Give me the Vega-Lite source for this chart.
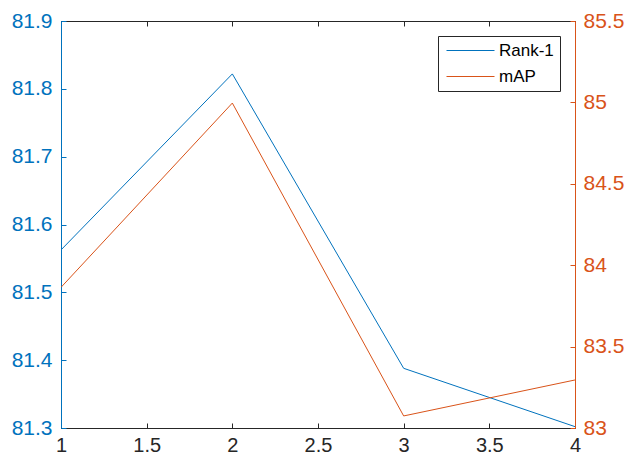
{
  "$schema": "https://vega.github.io/schema/vega-lite/v6.json",
  "autosize": "none",
  "width": 514,
  "height": 407,
  "padding": {"left": 61, "top": 21, "right": 54, "bottom": 34},
  "background": "white",
  "config": {
    "view": {"stroke": "#262626", "strokeWidth": 1},
    "font": "Liberation Sans",
    "axis": {"grid": false, "labelFont": "Liberation Sans", "labelFontSize": 21, "tickSize": -5, "domainWidth": 1, "tickWidth": 1, "title": null, "format": "~g"}
  },
  "data": {"values": [
    {"x": 1, "series": "Rank-1", "rank1": 81.5625, "map": null},
    {"x": 2, "series": "Rank-1", "rank1": 81.822, "map": null},
    {"x": 3, "series": "Rank-1", "rank1": 81.388, "map": null},
    {"x": 4, "series": "Rank-1", "rank1": 81.302, "map": null},
    {"x": 1, "series": "mAP", "rank1": null, "map": 83.864},
    {"x": 2, "series": "mAP", "rank1": null, "map": 84.996},
    {"x": 3, "series": "mAP", "rank1": null, "map": 83.074},
    {"x": 4, "series": "mAP", "rank1": null, "map": 83.295}
  ]},
  "encoding": {
    "color": {"field": "series", "type": "nominal",
              "scale": {"domain": ["Rank-1", "mAP"], "range": ["#0072BD", "#D95319"]},
              "legend": {"orient": "none", "legendX": 377, "legendY": 15, "title": null, "symbolType": "M-1,0H7", "symbolSize": 144, "symbolStrokeWidth": 1, "labelFontSize": 17, "labelFont": "Liberation Sans", "labelColor": "black", "strokeColor": "#262626", "fillColor": "white", "padding": 6, "rowPadding": 8, "labelOffset": 38, "cornerRadius": 0}}
  },
  "layer": [
    {
      "transform": [{"filter": "datum.series === 'Rank-1'"}],
      "mark": {"type": "line", "strokeWidth": 1, "clip": true},
      "encoding": {
        "x": {"field": "x", "type": "quantitative", "scale": {"domain": [1, 4], "nice": false, "zero": false},
              "axis": {"orient": "bottom", "values": [1, 1.5, 2, 2.5, 3, 3.5, 4], "labelFontSize": 20, "labelColor": "#262626", "domainColor": "#262626", "tickColor": "#262626", "labelPadding": 12, "labelFlush": false, "labelOverlap": false}},
        "y": {"field": "rank1", "type": "quantitative", "scale": {"domain": [81.3, 81.9], "nice": false, "zero": false},
              "axis": {"orient": "left", "values": [81.3, 81.4, 81.5, 81.6, 81.7, 81.8, 81.9], "labelColor": "#0072BD", "domainColor": "#0072BD", "tickColor": "#0072BD", "labelPadding": 14, "labelFlush": false, "labelOverlap": false}}
      }
    },
    {
      "transform": [{"filter": "datum.series === 'mAP'"}],
      "mark": {"type": "line", "strokeWidth": 1, "clip": true},
      "encoding": {
        "x": {"field": "x", "type": "quantitative", "scale": {"domain": [1, 4], "nice": false, "zero": false},
              "axis": {"orient": "top", "values": [1, 1.5, 2, 2.5, 3, 3.5, 4], "labels": false, "domainColor": "#262626", "tickColor": "#262626"}},
        "y": {"field": "map", "type": "quantitative", "scale": {"domain": [83, 85.5], "nice": false, "zero": false},
              "axis": {"orient": "right", "values": [83, 83.5, 84, 84.5, 85, 85.5], "labelColor": "#D95319", "domainColor": "#D95319", "tickColor": "#D95319", "labelPadding": 13, "labelFlush": false, "labelOverlap": false}}
      }
    }
  ],
  "resolve": {"scale": {"y": "independent", "x": "independent"}}
}
